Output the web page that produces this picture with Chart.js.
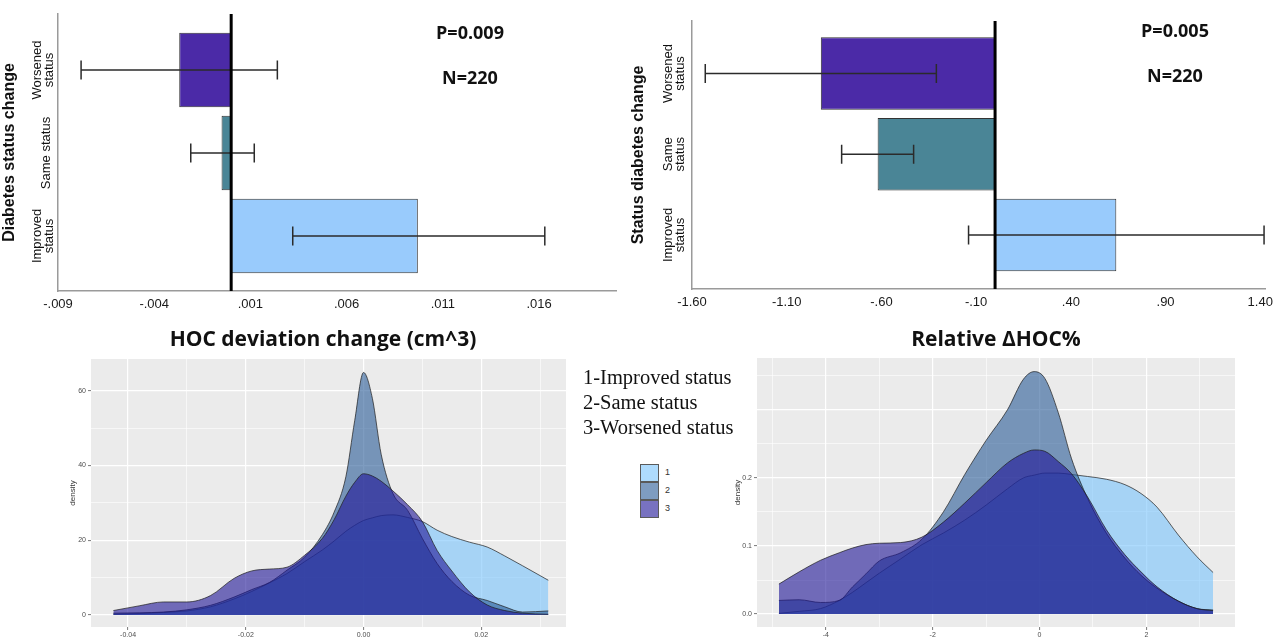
<!DOCTYPE html>
<html>
<head>
<meta charset="utf-8">
<script src="https://cdn.jsdelivr.net/npm/chart.js@4.4.1/dist/chart.umd.min.js"></script>
<style>
  body { margin: 0; background: #fff; }
  #page { position: relative; width: 1280px; height: 640px; overflow: hidden; background: #fff; }
  canvas { position: absolute; }
  .txt { position: absolute; white-space: nowrap; }
  .stat { font: bold 18px "Open Sans", "Noto Sans", sans-serif; color: #111; width: 120px; text-align: center; line-height: 22px; }
  .ptitle { font: bold 21px "Open Sans", "Noto Sans", sans-serif; color: #111; width: 400px; text-align: center; line-height: 26px; }
  .leg { font: 20.5px "Liberation Serif", "DejaVu Serif", serif; color: #111; line-height: 25px; }
  .key { position: absolute; width: 17px; height: 16px; border: 1px solid #5a5a5a; }
  .keylbl { font: 9px "Liberation Sans", Arial, sans-serif; color: #333; }
</style>
</head>
<body>
<div id="page">
  <canvas id="hocBar" width="625" height="320" style="left:0;top:0"></canvas>
  <canvas id="relBar" width="655" height="320" style="left:625px;top:0"></canvas>
  <canvas id="hocDens" width="572" height="300" style="left:0;top:340px"></canvas>
  <canvas id="relDens" width="580" height="300" style="left:700px;top:340px"></canvas>

  <div class="txt stat" style="left:410px;top:21px">P=0.009</div>
  <div class="txt stat" style="left:410px;top:66px">N=220</div>
  <div class="txt stat" style="left:1115px;top:19px">P=0.005</div>
  <div class="txt stat" style="left:1115px;top:64px">N=220</div>

  <div class="txt ptitle" style="left:123px;top:325px">HOC deviation change (cm^3)</div>
  <div class="txt ptitle" style="left:796px;top:325px">Relative ΔHOC%</div>

  <div class="txt leg" style="left:583px;top:365px">1-Improved status<br>2-Same status<br>3-Worsened status</div>
  <div class="key" style="left:640px;top:464px;background:rgba(120,195,252,0.6)"></div>
  <div class="key" style="left:640px;top:482px;background:rgba(40,90,150,0.6)"></div>
  <div class="key" style="left:640px;top:500px;background:rgba(30,20,150,0.6)"></div>
  <div class="txt keylbl" style="left:665px;top:467px">1</div>
  <div class="txt keylbl" style="left:665px;top:485px">2</div>
  <div class="txt keylbl" style="left:665px;top:503px">3</div>
</div>
<script>
// groups, top to bottom in the bar charts
const groups = ['Worsened status', 'Same status', 'Improved status'];
const barColors = ['#4b2aa7', '#4a8596', '#99cbfc'];

// HOC deviation change (cm^3): mean and 95% CI
const hocMean = [-0.0027, -0.0005, 0.0097];
const hocLow = [-0.0078, -0.0021, 0.0032];
const hocHigh = [0.0024, 0.0012, 0.0163];
const hocTicks = [-0.009, -0.004, 0.001, 0.006, 0.011, 0.016];
const hocTickLabels = ['-.009', '-.004', '.001', '.006', '.011', '.016'];

// Relative change in HOC %: mean and 95% CI
const relMean = [-0.92, -0.62, 0.64];
const relLow = [-1.53, -0.81, -0.14];
const relHigh = [-0.31, -0.43, 1.42];
const relTicks = [-1.6, -1.1, -0.6, -0.1, 0.4, 0.9, 1.4];
const relTickLabels = ['-1.60', '-1.10', '-.60', '-.10', '.40', '.90', '1.40'];

// density curves, HOC deviation change (1 improved, 2 same, 3 worsened)
const hocX = [-0.0425, -0.038, -0.034, -0.030, -0.026, -0.022, -0.019, -0.016, -0.013, -0.010, -0.007, -0.005, -0.003, -0.0015,
  0, 0.0015, 0.003, 0.005, 0.0075, 0.010, 0.0125, 0.015, 0.018, 0.021, 0.024, 0.027, 0.0314];
const hocDens1 = [0.2, 0.4, 0.7, 1.1, 2.2, 4.3, 6.3, 8.6, 11.1, 14.3, 17.4, 19.8, 22.4, 24.0,
  25.3, 26.0, 26.6, 26.8, 26.1, 25.0, 22.7, 21.0, 19.5, 18.2, 15.8, 13.2, 9.3];
const hocDens2 = [0.5, 0.6, 0.8, 1.4, 2.6, 4.8, 6.8, 8.7, 12.0, 15.5, 21.5, 27.5, 37.0, 52.0,
  64.9, 58.0, 43.0, 32.5, 28.0, 20.5, 13.8, 9.0, 5.3, 3.9, 2.2, 0.8, 1.1];
const hocDens3 = [1.2, 2.5, 3.5, 3.5, 5.2, 9.8, 11.8, 12.3, 12.8, 16.0, 20.5, 25.5, 31.8, 35.5,
  37.8, 37.2, 35.8, 33.2, 29.5, 25.0, 17.3, 11.8, 6.2, 2.7, 1.2, 0.5, 0.2];

// density curves, relative change in HOC %
const relX = [-4.88, -4.5, -4.1, -3.75, -3.5, -3.25, -3.0, -2.6, -2.2, -1.8, -1.4, -1.0, -0.6,
  -0.3, -0.1, 0.1, 0.35, 0.6, 0.9, 1.25, 1.6, 1.9, 2.2, 2.6, 2.95, 3.25];
const relDens1 = [0.001, 0.004, 0.008, 0.020, 0.032, 0.046, 0.060, 0.081, 0.102, 0.119, 0.138, 0.160, 0.184,
  0.200, 0.204, 0.207, 0.207, 0.205, 0.202, 0.198, 0.190, 0.177, 0.157, 0.116, 0.084, 0.061];
const relDens2 = [0.020, 0.021, 0.017, 0.020, 0.040, 0.059, 0.078, 0.090, 0.110, 0.150, 0.205, 0.255, 0.300,
  0.345, 0.356, 0.346, 0.296, 0.228, 0.170, 0.119, 0.082, 0.057, 0.038, 0.019, 0.008, 0.006];
const relDens3 = [0.044, 0.062, 0.079, 0.090, 0.097, 0.102, 0.104, 0.105, 0.113, 0.135, 0.163, 0.193, 0.222,
  0.236, 0.241, 0.239, 0.224, 0.206, 0.172, 0.124, 0.087, 0.062, 0.040, 0.019, 0.008, 0.005];

const densFills = ['rgba(120,195,252,0.6)', 'rgba(40,90,150,0.6)', 'rgba(30,20,150,0.6)'];

// ---------- bar charts with CI ----------

// error bars, zero line and the rotated group labels
const barExtras = {
  id: 'barExtras',
  afterDatasetsDraw(chart, args, opts) {
    const {ctx, chartArea} = chart;
    const xs = chart.scales.x, ys = chart.scales.y;
    ctx.save();
    ctx.strokeStyle = '#2b2b2b';
    ctx.lineWidth = 1.5;
    opts.low.forEach((lo, i) => {
      const y = ys.getPixelForValue(i);
      const x1 = xs.getPixelForValue(lo), x2 = xs.getPixelForValue(opts.high[i]);
      ctx.beginPath();
      ctx.moveTo(x1, y); ctx.lineTo(x2, y);
      ctx.moveTo(x1, y - 9.5); ctx.lineTo(x1, y + 9.5);
      ctx.moveTo(x2, y - 9.5); ctx.lineTo(x2, y + 9.5);
      ctx.stroke();
    });
    const x0 = xs.getPixelForValue(0);
    ctx.strokeStyle = '#000';
    ctx.lineWidth = 3;
    ctx.beginPath();
    ctx.moveTo(x0, chartArea.top); ctx.lineTo(x0, chartArea.bottom);
    ctx.stroke();

    ctx.fillStyle = '#111';
    ctx.font = '13px "Liberation Sans", Arial, sans-serif';
    ctx.textAlign = 'center';
    ctx.textBaseline = 'middle';
    opts.lines.forEach((lines, i) => {
      const y = ys.getPixelForValue(i);
      lines.forEach((t, j) => {
        const x = chartArea.left + (lines.length === 1 ? opts.single : opts.offsets[j]);
        ctx.save();
        ctx.translate(x, y);
        ctx.rotate(-Math.PI / 2);
        ctx.fillText(t, 0, 0);
        ctx.restore();
      });
    });
    ctx.restore();
  }
};

function barChart(id, o) {
  return new Chart(document.getElementById(id), {
    type: 'bar',
    data: {
      datasets: [{
        label: o.title,
        data: o.mean.map((v, i) => ({x: v, y: i})),
        backgroundColor: barColors,
        borderColor: '#333',
        borderWidth: 1,
        borderSkipped: false,
        barPercentage: 0.9,
        categoryPercentage: 1
      }]
    },
    options: {
      indexAxis: 'y',
      responsive: false,
      animation: false,
      layout: {padding: o.padding},
      plugins: {
        legend: {display: false},
        tooltip: {enabled: false},
        barExtras: {low: o.low, high: o.high, lines: o.lines, offsets: o.offsets, single: o.single}
      },
      scales: {
        x: {
          type: 'linear', min: o.min, max: o.max,
          grid: {display: false, drawTicks: false},
          border: {color: '#9a9a9a', width: 1.5},
          ticks: {
            padding: 6, color: '#1a1a1a',
            font: {family: '"Liberation Sans", Arial, sans-serif', size: 13},
            callback: (v, i) => o.tickLabels[i]
          },
          afterBuildTicks: s => { s.ticks = o.ticks.map(v => ({value: v})); },
          afterFit: s => { s.height = o.xh; }
        },
        y: {
          type: 'linear', reverse: true, offset: false, min: o.ymin, max: o.ymax,
          grid: {display: false, drawTicks: false, offset: false},
          border: {color: '#9a9a9a', width: 1.5},
          ticks: {display: false},
          title: {
            display: true, text: o.title, color: '#111',
            font: {family: '"Liberation Sans", Arial, sans-serif', size: 16, weight: 'bold'},
            padding: {top: 0, bottom: 0}
          },
          afterBuildTicks: s => { s.ticks = groups.map((g, i) => ({value: i})); },
          afterFit: s => { s.width = o.yw; }
        }
      }
    },
    plugins: [barExtras]
  });
}

barChart('hocBar', {
  title: 'Diabetes status change',
  mean: hocMean, low: hocLow, high: hocHigh,
  ticks: hocTicks, tickLabels: hocTickLabels,
  min: -0.009, max: 0.020, ymin: -0.675, ymax: 2.663,
  lines: [['Worsened', 'status'], ['Same status'], ['Improved', 'status']],
  offsets: [-21, -9], single: -12,
  padding: {left: 0, top: 14, right: 9, bottom: 0}, yw: 58, xh: 29
});

barChart('relBar', {
  title: 'Status diabetes change',
  mean: relMean, low: relLow, high: relHigh,
  ticks: relTicks, tickLabels: relTickLabels,
  min: -1.6, max: 1.425, ymin: -0.65, ymax: 2.669,
  lines: [['Worsened', 'status'], ['Same', 'status'], ['Improved', 'status']],
  offsets: [-24, -12], single: -14,
  padding: {left: 4, top: 21, right: 15, bottom: 0}, yw: 63, xh: 31
});

// ---------- density plots (ggplot look) ----------

const panelBg = {
  id: 'panelBg',
  beforeDraw(chart) {
    const {ctx, chartArea: a} = chart;
    ctx.save();
    ctx.fillStyle = '#ebebeb';
    ctx.fillRect(a.left, a.top, a.right - a.left, a.bottom - a.top);
    ctx.restore();
  }
};

function tickList(major, labels, minor) {
  return major.map((v, i) => ({value: v, lbl: labels[i], minor: false}))
    .concat(minor.map(v => ({value: v, lbl: '', minor: true})))
    .sort((a, b) => a.value - b.value);
}

function gridOpts() {
  return {
    color: '#ffffff',
    lineWidth: c => (c.tick && c.tick.minor) ? 0.6 : 1.2,
    drawTicks: true, tickLength: 3, tickWidth: 0.8,
    tickColor: c => (c.tick && c.tick.lbl !== '') ? '#555' : 'rgba(0,0,0,0)'
  };
}

const smallFont = {family: '"Liberation Sans", Arial, sans-serif', size: 7};

function densityChart(id, o) {
  const xT = tickList(o.xMajor, o.xLabels, o.xMinor);
  const yT = tickList(o.yMajor, o.yLabels, o.yMinor);
  return new Chart(document.getElementById(id), {
    type: 'line',
    data: {
      datasets: o.series.map((ys, k) => ({
        label: String(k + 1),
        data: o.x.map((x, i) => ({x: x, y: ys[i]})),
        fill: 'origin',
        backgroundColor: densFills[k],
        borderColor: '#1d1d1d',
        borderWidth: 0.7,
        pointRadius: 0,
        cubicInterpolationMode: 'monotone',
        order: 3 - k
      }))
    },
    options: {
      responsive: false,
      animation: false,
      layout: {padding: o.padding},
      plugins: {legend: {display: false}, tooltip: {enabled: false}},
      scales: {
        x: {
          type: 'linear', min: o.xmin, max: o.xmax,
          border: {display: false},
          grid: gridOpts(),
          ticks: {font: smallFont, color: '#4d4d4d', padding: 1, maxRotation: 0, autoSkip: false,
            callback: (v, i, t) => t[i].lbl},
          afterBuildTicks: s => { s.ticks = xT.map(t => Object.assign({}, t)); },
          afterFit: s => { s.height = 13; }
        },
        y: {
          type: 'linear', min: o.ymin, max: o.ymax,
          border: {display: false},
          grid: gridOpts(),
          ticks: {font: smallFont, color: '#4d4d4d', padding: 2, autoSkip: false,
            callback: (v, i, t) => t[i].lbl},
          title: {display: true, text: 'density', color: '#333',
            font: {family: '"Liberation Sans", Arial, sans-serif', size: 8}, padding: {top: 8, bottom: 0}},
          afterBuildTicks: s => { s.ticks = yT.map(t => Object.assign({}, t)); },
          afterFit: s => { s.width = o.yw; }
        }
      }
    },
    plugins: [panelBg]
  });
}

densityChart('hocDens', {
  x: hocX, series: [hocDens1, hocDens2, hocDens3],
  xmin: -0.0463, xmax: 0.0344, ymin: -3.2, ymax: 68.5,
  xMajor: [-0.04, -0.02, 0, 0.02], xLabels: ['-0.04', '-0.02', '0.00', '0.02'], xMinor: [-0.03, -0.01, 0.01, 0.03],
  yMajor: [0, 20, 40, 60], yLabels: ['0', '20', '40', '60'], yMinor: [10, 30, 50],
  padding: {left: 60, top: 19, right: 6, bottom: 0}, yw: 31
});

densityChart('relDens', {
  x: relX, series: [relDens1, relDens2, relDens3],
  xmin: -5.29, xmax: 3.66, ymin: -0.019, ymax: 0.376,
  xMajor: [-4, -2, 0, 2], xLabels: ['-4', '-2', '0', '2'], xMinor: [-5, -3, -1, 1, 3],
  yMajor: [0, 0.1, 0.2, 0.3], yLabels: ['0.0', '0.1', '0.2', ''], yMinor: [0.05, 0.15, 0.25, 0.35],
  padding: {left: 25, top: 18, right: 45, bottom: 0}, yw: 32
});
</script>
</body>
</html>
